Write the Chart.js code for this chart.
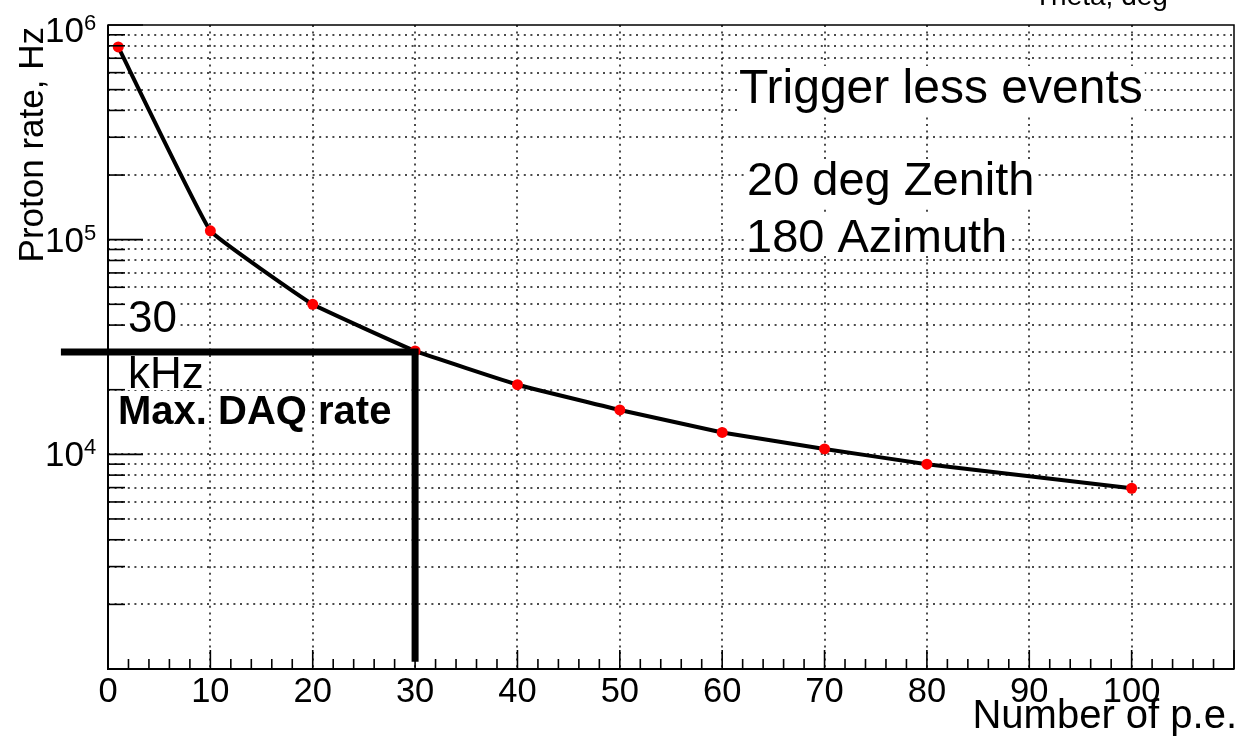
<!DOCTYPE html>
<html lang="en">
<head>
<meta charset="UTF-8">
<title>Proton rate vs number of p.e.</title>
<script src="https://cdn.jsdelivr.net/npm/chart.js@4.4.1/dist/chart.umd.min.js"></script>
<style>
  html, body { margin: 0; padding: 0; background: #fff; }
  #wrap { width: 1246px; height: 744px; }
</style>
</head>
<body>
<div id="wrap"><canvas id="rate-chart" width="1246" height="744"></canvas></div>
<script>
// points
const peX = [1, 10, 20, 30, 40, 50, 60, 70, 80, 100];
const rateY = [790000, 110000, 50000, 30300, 21100, 16100, 12650, 10600, 9000, 6950];

// 30 kHz "max DAQ rate" marker: across from the left, then down at 30 p.e.
const daqX = [-4.6, 30, 30];
const daqY = [30000, 30000, 1080];

// axes
const xLabels = [0, 10, 20, 30, 40, 50, 60, 70, 80, 90, 100];
const yDecades = [1000, 10000, 100000, 1000000];
const yLabelled = [10000, 100000, 1000000];
const yDigits = [2, 3, 4, 5, 6, 7, 8, 9];

const xTickValues = [];
for (let v = 0; v <= 110; v += 2) xTickValues.push(v);
const yTickValues = [];
yDecades.forEach(d => {
  yTickValues.push(d);
  if (d < 1000000) yDigits.forEach(k => yTickValues.push(k * d));
});

const FONT = '"Liberation Sans", Arial, Helvetica, sans-serif';

// free text on the pad
const notes = [
  { text: 'Trigger less events', x: 739, y: 103, size: 48, box: true },
  { text: '20 deg Zenith', x: 747, y: 195, size: 47, box: true },
  { text: '180 Azimuth', x: 746, y: 252, size: 47, box: true },
  { text: '30', x: 128, y: 332, size: 44, box: true },
  { text: 'kHz', x: 128, y: 388, size: 44, box: true },
  { text: 'Max. DAQ rate', x: 118, y: 424, size: 40, bold: true, box: false }
];

function seg(ctx, x1, y1, x2, y2) {
  ctx.beginPath();
  ctx.moveTo(x1, y1);
  ctx.lineTo(x2, y2);
  ctx.stroke();
}

const rootPad = {
  id: 'rootPad',
  beforeDatasetsDraw(chart) {
    const { ctx, chartArea: a, scales: { x, y } } = chart;
    ctx.save();
    // dotted grid
    ctx.strokeStyle = '#111';
    ctx.lineWidth = 1.5;
    ctx.setLineDash([2, 4.6]);
    y.ticks.forEach(t => {
      if (t.value <= y.min || t.value >= y.max) return;
      const py = Math.round(y.getPixelForValue(t.value));
      seg(ctx, a.left, py, a.right, py);
    });
    x.ticks.forEach(t => {
      if (t.value % 10 !== 0 || t.value <= x.min || t.value >= x.max) return;
      const px = Math.round(x.getPixelForValue(t.value));
      seg(ctx, px, a.top, px, a.bottom);
    });
    ctx.setLineDash([]);

    // text, with a white box behind where the original had one
    notes.forEach(n => {
      ctx.font = (n.bold ? 'bold ' : '') + n.size + 'px ' + FONT;
      ctx.textAlign = 'left';
      ctx.textBaseline = 'alphabetic';
      if (n.box) {
        const m = ctx.measureText(n.text);
        const asc = m.actualBoundingBoxAscent, desc = m.actualBoundingBoxDescent;
        ctx.fillStyle = '#fff';
        ctx.fillRect(n.x - 2, n.y - asc - 2, m.width + 4, asc + desc + 4);
      }
      ctx.fillStyle = '#000';
      ctx.fillText(n.text, n.x, n.y);
    });
    ctx.restore();
  },
  afterDraw(chart) {
    const { ctx, chartArea: a, scales: { x, y } } = chart;
    ctx.save();
    ctx.strokeStyle = '#000';
    ctx.lineWidth = 1.5;
    ctx.strokeRect(a.left, a.top, a.right - a.left, a.bottom - a.top);
    ctx.lineWidth = 2;
    seg(ctx, a.left, a.top, a.left, a.bottom + 1);
    seg(ctx, a.left - 1, a.bottom, a.right, a.bottom);

    // tick marks, drawn inward
    ctx.lineWidth = 1.6;
    y.ticks.forEach(t => {
      const py = y.getPixelForValue(t.value);
      const major = yDecades.includes(t.value);
      seg(ctx, a.left, py, a.left + (major ? 35 : 17), py);
    });
    x.ticks.forEach(t => {
      const px = x.getPixelForValue(t.value);
      const major = t.value % 10 === 0;
      seg(ctx, px, a.bottom, px, a.bottom - (major ? 19 : 10));
    });

    // tick labels
    ctx.fillStyle = '#000';
    ctx.textBaseline = 'alphabetic';
    ctx.font = '34.5px ' + FONT;
    ctx.textAlign = 'center';
    xLabels.forEach(v => {
      ctx.fillText(String(v), x.getPixelForValue(v), 702);
    });
    yLabelled.forEach(v => {
      const py = y.getPixelForValue(v);
      const base = Math.max(py + 12, a.top + 17);
      const exp = Math.round(Math.log10(v));
      ctx.textAlign = 'right';
      ctx.font = '35px ' + FONT;
      ctx.fillText('10', 84, base);
      ctx.textAlign = 'left';
      ctx.font = '22px ' + FONT;
      ctx.fillText(String(exp), 84, base - 12);
    });

    // axis titles
    ctx.font = '40px ' + FONT;
    ctx.textAlign = 'right';
    ctx.fillText('Number of p.e.', 1237, 728);
    ctx.save();
    ctx.translate(43, 27);
    ctx.rotate(-Math.PI / 2);
    ctx.font = '35px ' + FONT;
    ctx.textAlign = 'right';
    ctx.fillText('Proton rate, Hz', 0, 0);
    ctx.restore();

    // cut-off title of a pad above
    ctx.font = '28px ' + FONT;
    ctx.textAlign = 'left';
    ctx.fillText('Theta, deg', 1034, 5);
    ctx.restore();
  }
};

new Chart(document.getElementById('rate-chart'), {
  type: 'scatter',
  data: {
    datasets: [
      {
        label: 'Max. DAQ rate',
        data: daqX.map((v, i) => ({ x: v, y: daqY[i] })),
        showLine: true,
        borderColor: '#000',
        borderWidth: 7,
        borderCapStyle: 'butt',
        borderJoinStyle: 'miter',
        pointRadius: 0,
        clip: false,
        order: 0
      },
      {
        label: 'Proton rate',
        data: peX.map((v, i) => ({ x: v, y: rateY[i] })),
        showLine: true,
        borderColor: '#000',
        borderWidth: 4,
        tension: 0.08,
        pointRadius: 5.5,
        pointBackgroundColor: '#ff0000',
        pointBorderColor: '#ff0000',
        pointBorderWidth: 0,
        order: 1
      }
    ]
  },
  options: {
    responsive: false,
    animation: false,
    events: [],
    layout: { padding: { left: 0, top: 25, right: 12, bottom: 0 } },
    plugins: { legend: { display: false }, tooltip: { enabled: false } },
    scales: {
      x: {
        type: 'linear',
        min: 0,
        max: 110,
        grid: { display: false },
        border: { display: false },
        ticks: { display: false, autoSkip: false },
        afterBuildTicks: s => { s.ticks = xTickValues.map(v => ({ value: v })); },
        afterFit: s => { s.height = 75; }
      },
      y: {
        type: 'logarithmic',
        min: 1000,
        max: 1000000,
        grid: { display: false },
        border: { display: false },
        ticks: { display: false, autoSkip: false },
        afterBuildTicks: s => { s.ticks = yTickValues.map(v => ({ value: v })); },
        afterFit: s => { s.width = 108; }
      }
    }
  },
  plugins: [rootPad]
});
</script>
</body>
</html>
